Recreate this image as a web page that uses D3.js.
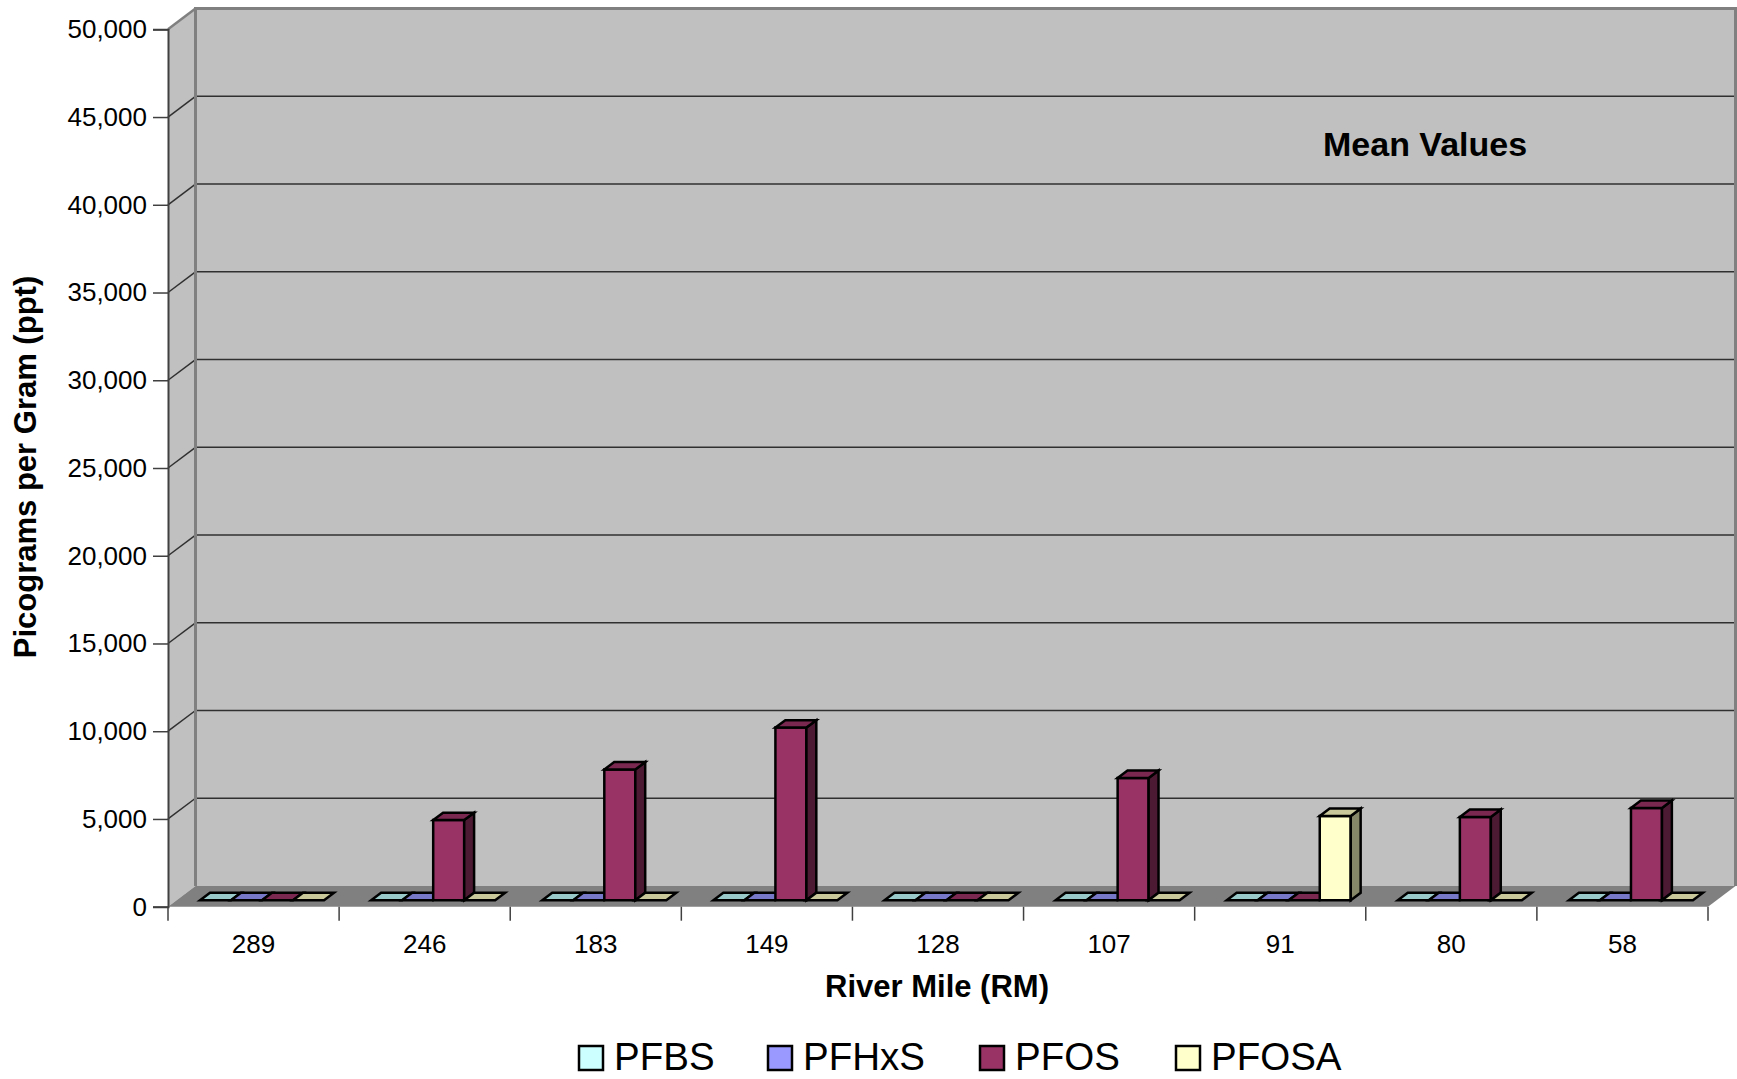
<!DOCTYPE html>
<html>
<head>
<meta charset="utf-8">
<script src="https://cdn.jsdelivr.net/npm/d3@7"></script>
<style>
  html, body { margin: 0; padding: 0; background: #ffffff; }
  svg { display: block; font-family: "Liberation Sans", Arial, sans-serif; }
</style>
</head>
<body>
<svg id="chart" width="1737" height="1079"></svg>
<script>
// River miles along the x axis (upstream to downstream)
const categories = ["289", "246", "183", "149", "128", "107", "91", "80", "58"];
const seriesNames = ["PFBS", "PFHxS", "PFOS", "PFOSA"];

// Mean concentrations, picograms per gram
const pfbs  = [0, 0, 0, 0, 0, 0, 0, 0, 0];
const pfhxs = [0, 0, 0, 0, 0, 0, 0, 0, 0];
const pfos  = [0, 4570, 7450, 9840, 0, 6970, 0, 4750, 5260];
const pfosa = [0, 0, 0, 0, 0, 0, 4800, 0, 0];

const yTickValues = [0, 5000, 10000, 15000, 20000, 25000, 30000, 35000, 40000, 45000, 50000];

// Face colours for each series: front, top, side
const palette = {
  PFBS:  { front: "#CCFFFF", top: "#99C9C9", side: "#669999" },
  PFHxS: { front: "#9999FF", top: "#7878C8", side: "#4D4D80" },
  PFOS:  { front: "#993366", top: "#7A2850", side: "#4D1A33" },
  PFOSA: { front: "#FFFFCC", top: "#C8C89A", side: "#868669" }
};

const seriesValues = { PFBS: pfbs, PFHxS: pfhxs, PFOS: pfos, PFOSA: pfosa };

const svg = d3.select("#chart");

// Front plane of the plot box
const plotLeft = 168, plotRight = 1708, plotTop = 29.3, plotBottom = 906.7;
// Oblique depth vector of the 3D box
const D = { dx: 27.5, dy: -20.7 };

const x = d3.scaleBand().domain(categories).range([plotLeft, plotRight]).padding(0);
const y = d3.scaleLinear().domain([0, 50000]).range([plotBottom, plotTop]);

const barW = 31;
const groupOff = (x.bandwidth() - seriesNames.length * barW) / 2;
const x1 = d3.scaleBand().domain(seriesNames)
  .range([groupOff, groupOff + seriesNames.length * barW]).padding(0);
const f0 = 0.31, f1 = 0.67; // depth span of the columns

const P = (px, v, f) => [px + f * D.dx, y(v) + f * D.dy];
const poly = pts => pts.map(p => p.join(",")).join(" ");

// Back wall
const bw = svg.append("g");
bw.append("rect")
  .attr("x", plotLeft + D.dx).attr("y", plotTop + D.dy)
  .attr("width", plotRight - plotLeft).attr("height", plotBottom - plotTop)
  .attr("fill", "#C0C0C0");

// Left side wall
bw.append("polygon")
  .attr("points", poly([[plotLeft, plotTop], [plotLeft + D.dx, plotTop + D.dy], [plotLeft + D.dx, plotBottom + D.dy], [plotLeft, plotBottom]]))
  .attr("fill", "#C0C0C0");

// Gridlines on back and side walls
const grid = svg.append("g").attr("stroke", "#303030").attr("stroke-width", 1.5).attr("fill", "none");
yTickValues.filter(v => v > 0 && v < 50000).forEach(v => {
  grid.append("line")
    .attr("x1", plotLeft + D.dx).attr("x2", plotRight + D.dx)
    .attr("y1", y(v) + D.dy).attr("y2", y(v) + D.dy);
  grid.append("line")
    .attr("x1", plotLeft).attr("x2", plotLeft + D.dx)
    .attr("y1", y(v)).attr("y2", y(v) + D.dy);
});

// Floor
svg.append("polygon")
  .attr("points", poly([[plotLeft, plotBottom], [plotLeft + D.dx, plotBottom + D.dy], [plotRight + D.dx, plotBottom + D.dy], [plotRight, plotBottom]]))
  .attr("fill", "#808080");

// Wall borders
svg.append("path")
  .attr("d", `M${plotLeft + D.dx},${plotBottom + D.dy} V${plotTop + D.dy} H${plotRight + D.dx} V${plotBottom + D.dy}`)
  .attr("fill", "none").attr("stroke", "#808080").attr("stroke-width", 3);
svg.append("line")
  .attr("x1", plotLeft).attr("y1", plotTop).attr("x2", plotLeft + D.dx).attr("y2", plotTop + D.dy)
  .attr("stroke", "#808080").attr("stroke-width", 2.5);

// Columns
const bars = svg.append("g").attr("stroke", "#000").attr("stroke-width", 2.5).attr("stroke-linejoin", "miter");
categories.forEach((c, ci) => {
  seriesNames.forEach(s => {
    const v = seriesValues[s][ci];
    const xa = x(c) + x1(s), xb = xa + x1.bandwidth();
    const col = palette[s];
    const g = bars.append("g");
    if (v > 0) {
      g.append("polygon")
        .attr("points", poly([P(xa, 0, f0), P(xb, 0, f0), P(xb, v, f0), P(xa, v, f0)]))
        .attr("fill", col.front);
      g.append("polygon")
        .attr("points", poly([P(xb, 0, f0), P(xb, 0, f1), P(xb, v, f1), P(xb, v, f0)]))
        .attr("fill", col.side);
    }
    g.append("polygon")
      .attr("points", poly([P(xa, v, f0), P(xb, v, f0), P(xb, v, f1), P(xa, v, f1)]))
      .attr("fill", col.top);
  });
});

// Value axis
const yAxis = svg.append("g")
  .attr("transform", `translate(${plotLeft},0)`)
  .call(d3.axisLeft(y).tickValues(yTickValues).tickFormat(d3.format(",")).tickSize(15).tickPadding(6));
yAxis.select(".domain").attr("stroke", "#404040").attr("stroke-width", 2);
yAxis.selectAll(".tick line").attr("stroke", "#404040").attr("stroke-width", 1.5);
yAxis.selectAll(".tick text").attr("font-size", 26).attr("fill", "#000")
  .attr("font-family", "'Liberation Sans', Arial, sans-serif");

// Category axis: ticks at band edges, labels at band centres
const xAxis = svg.append("g");
const edges = categories.map(c => x(c)).concat([plotRight]);
xAxis.selectAll("line.edge").data(edges).join("line")
  .attr("class", "edge")
  .attr("x1", d => d).attr("x2", d => d)
  .attr("y1", plotBottom).attr("y2", plotBottom + 14)
  .attr("stroke", "#404040").attr("stroke-width", 1.5);
xAxis.selectAll("text.cat").data(categories).join("text")
  .attr("class", "cat")
  .attr("x", d => x(d) + x.bandwidth() / 2)
  .attr("y", 952.7)
  .attr("text-anchor", "middle")
  .attr("font-size", 26)
  .text(d => d);

// Axis titles
svg.append("text")
  .attr("x", 937).attr("y", 996.7)
  .attr("text-anchor", "middle").attr("font-size", 31).attr("font-weight", "bold")
  .text("River Mile (RM)");
svg.append("text")
  .attr("transform", "translate(35.5,467) rotate(-90)")
  .attr("text-anchor", "middle").attr("font-size", 31).attr("font-weight", "bold")
  .text("Picograms per Gram (ppt)");

// Panel label
svg.append("text")
  .attr("x", 1323).attr("y", 156)
  .attr("font-size", 34).attr("font-weight", "bold")
  .text("Mean Values");

// Legend
const legendX = [579, 768, 980, 1176];
const legend = svg.append("g");
seriesNames.forEach((s, i) => {
  legend.append("rect")
    .attr("x", legendX[i]).attr("y", 1046)
    .attr("width", 24).attr("height", 24)
    .attr("fill", palette[s].front).attr("stroke", "#000").attr("stroke-width", 2.5);
  legend.append("text")
    .attr("x", legendX[i] + 35).attr("y", 1070)
    .attr("font-size", 38.5)
    .text(s);
});
</script>
</body>
</html>
